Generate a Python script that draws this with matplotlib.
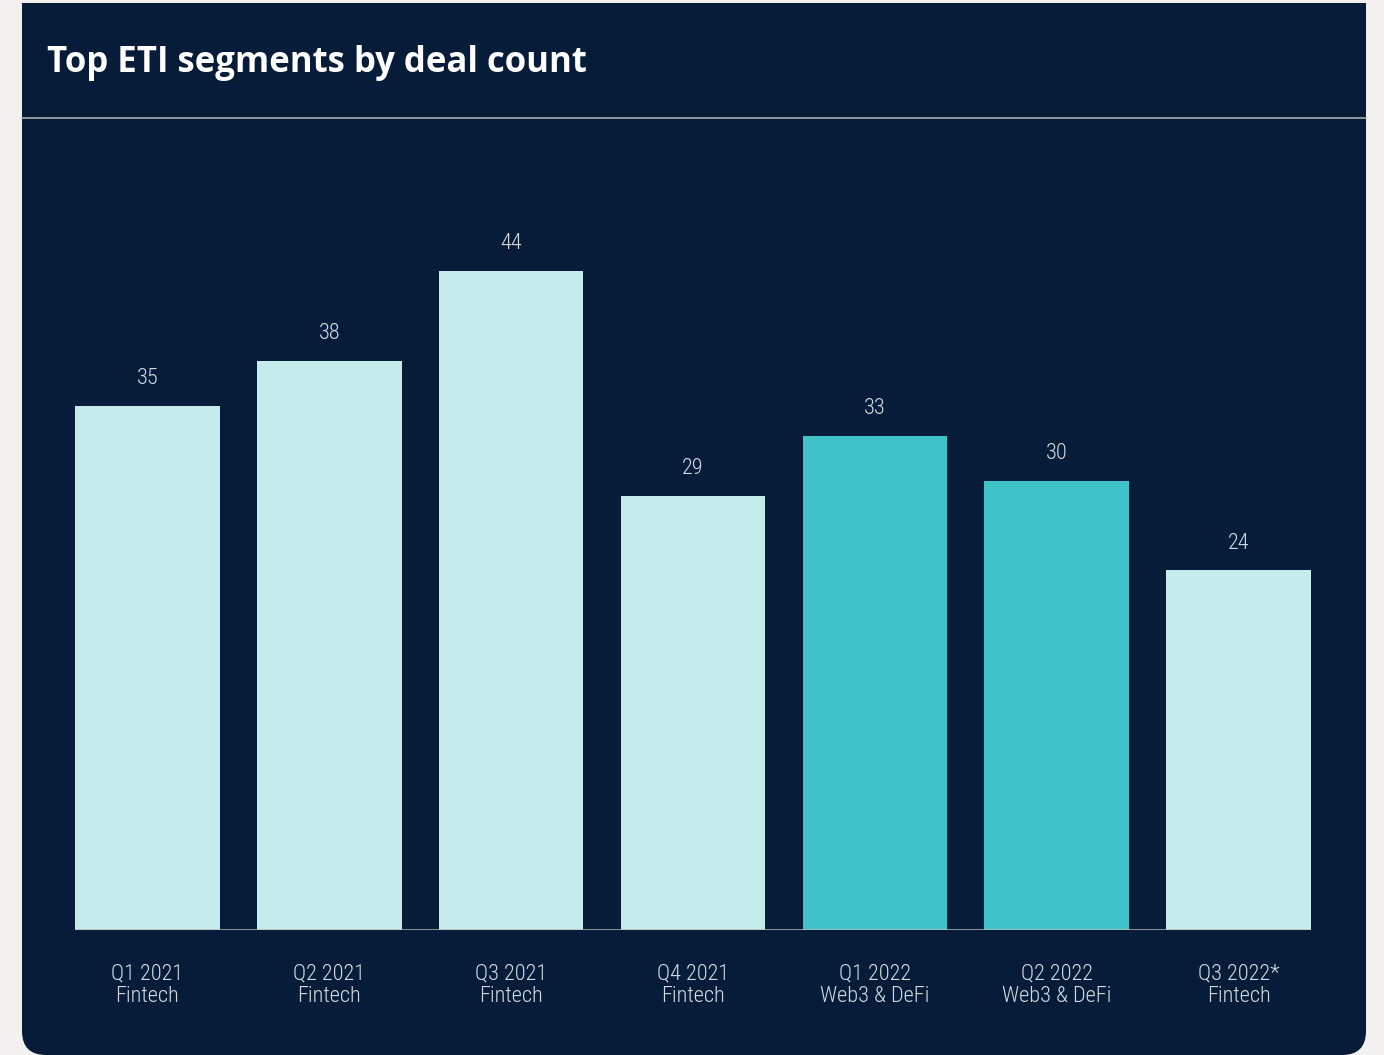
import matplotlib
matplotlib.use("Agg")
import matplotlib.pyplot as plt
from matplotlib.patches import FancyBboxPatch, Rectangle
from matplotlib import font_manager

quarters = ["Q1 2021", "Q2 2021", "Q3 2021", "Q4 2021", "Q1 2022", "Q2 2022", "Q3 2022*"]
segments = ["Fintech", "Fintech", "Fintech", "Fintech", "Web3 & DeFi", "Web3 & DeFi", "Fintech"]
deal_counts = [35, 38, 44, 29, 33, 30, 24]

NAVY = "#061c38"
LIGHT = "#c5ecec"
TEAL = "#40c3c8"
BG = "#f2f1ef"
TXT = "#d5dbe1"

names = {f.name for f in font_manager.fontManager.ttflist}

def pick(cands):
    for c in cands:
        if c in names:
            return c
    return "DejaVu Sans"

narrow = pick(["Roboto Condensed", "Open Sans Condensed", "Liberation Sans Narrow",
               "Roboto", "DejaVu Sans"])
title_font = pick(["Open Sans", "DejaVu Sans"])

W, H = 1384, 1055
fig = plt.figure(figsize=(W / 100, H / 100), dpi=100)
fig.patch.set_facecolor(BG)

def fx(px):
    return px / W

def fy(py):
    return 1 - py / H

# panel with rounded bottom corners
r = 24
panel = FancyBboxPatch((fx(22), fy(1055)), fx(1366 - 22), (1055 - 3) / H,
                       boxstyle=f"round,pad=0,rounding_size={r / W}",
                       transform=fig.transFigure, facecolor=NAVY, edgecolor="none",
                       mutation_aspect=W / H, zorder=-2)
fig.patches.append(panel)
fig.patches.append(Rectangle((fx(22), fy(500)), fx(1366 - 22), (500 - 3) / H,
                             transform=fig.transFigure, facecolor=NAVY,
                             edgecolor="none", zorder=-2))

# separator line
fig.add_artist(plt.Line2D([fx(22), fx(1366)], [fy(118), fy(118)],
                          transform=fig.transFigure, color="#a9adb0", lw=1.2, zorder=-1))

fig.text(fx(47), fy(63), "Top ETI segments by deal count", color="white",
         fontsize=25, fontweight="bold", family=title_font, va="center", ha="left")

ax_left, ax_right, ax_bottom, ax_top = 75, 1311, 930, 130
ax = fig.add_axes([fx(ax_left), fy(ax_bottom), fx(ax_right - ax_left),
                   (ax_bottom - ax_top) / H])
ax.set_facecolor("none")
ax.set_zorder(1)
px_per_unit = 14.98
ax.set_ylim(0, (ax_bottom - ax_top) / px_per_unit)
width = 0.795
ax.set_xlim(-width / 2, len(deal_counts) - 1 + width / 2)

colors = [TEAL if s.startswith("Web3") else LIGHT for s in segments]
xs = list(range(len(deal_counts)))
bars = ax.bar(xs, deal_counts, width=width, color=colors, zorder=2)
for x, v in zip(xs, deal_counts):
    ax.annotate(str(v), (x, v), xytext=(0, 12), textcoords="offset points",
                ha="center", va="bottom", color=TXT, fontsize=16, family=narrow,
                fontweight="light", fontstretch="condensed")

ax.axhline(0, color="#b9bbb6", lw=1.8, zorder=3)
for s in ax.spines.values():
    s.set_visible(False)
ax.set_yticks([])
ax.set_xticks(xs)
ax.set_xticklabels([f"{q}\n{s}" for q, s in zip(quarters, segments)],
                   color=TXT, fontsize=16, family=narrow, linespacing=1.1,
                   fontweight="light", fontstretch="condensed")
ax.tick_params(axis="x", length=0, pad=24)

fig.savefig("out.png", dpi=100, facecolor=BG)
